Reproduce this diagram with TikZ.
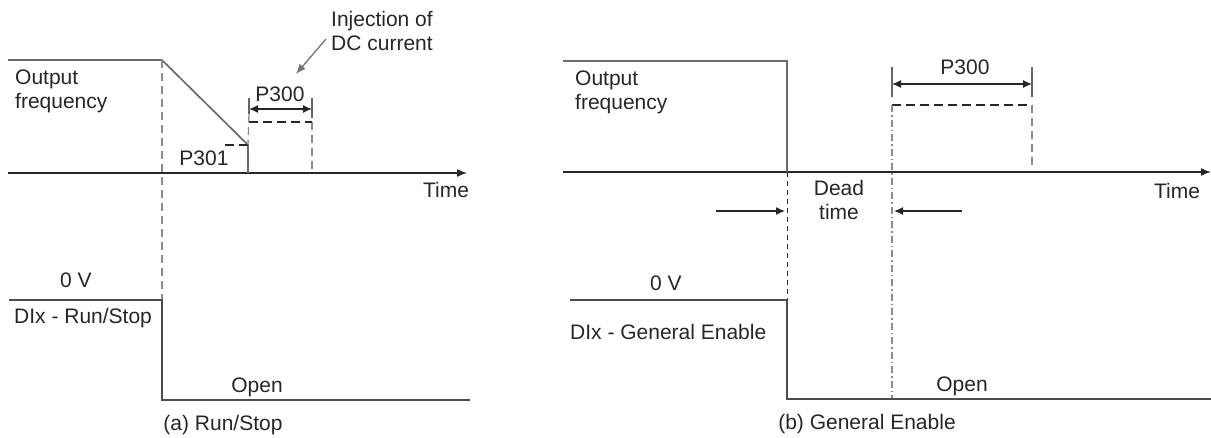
\documentclass[tikz,border=0pt]{standalone}
\usepackage{fontspec}
\setmainfont{Liberation Sans}
\usetikzlibrary{arrows.meta,positioning,calc}

\begin{document}
\begin{tikzpicture}[x=1pt,y=-1pt,
  lbl/.style={font=\fontsize{21}{24}\selectfont,text=black!85,inner sep=0pt,align=left},
  sig/.style={draw=black!58,line width=1.7pt},
  axisline/.style={draw=black!85,line width=1.4pt,-{Latex[length=10pt,width=8pt]}},
  guide/.style={draw=black!45,line width=1.3pt,dash pattern=on 8pt off 5pt},
  pdash/.style={draw=black!85,line width=2.4pt,dash pattern=on 9pt off 5pt},
  tick/.style={draw=black!60,line width=1.3pt},
  dim/.style={draw=black!85,line width=1.4pt,{Latex[length=9pt,width=8pt]}-{Latex[length=9pt,width=8pt]}},
  pointer/.style={draw=black!85,line width=1.3pt,-{Latex[length=9pt,width=8pt]}}
]
\useasboundingbox (0,0) rectangle (1211,437);

% ---- (a) Run/Stop ----
\coordinate (aHi) at (8,60);
\coordinate (aStop) at (162,60);
\coordinate (aRamp) at (248,145);
\coordinate (aZero) at (248,173);
\coordinate (aEnd) at (337,173);
\coordinate (aAx0) at (8,173);
\coordinate (aAx1) at (467,173);
\coordinate (aP1) at (312,122);
\coordinate (aP0) at (249,122);

\node[lbl,anchor=north west] (outA) at (15,70) {Output\\frequency};
\node[lbl,align=center] (injA) at (382,31) {Injection of\\DC current};
\node[lbl] (pA300) at (280,94) {P300};
\node[lbl] (pA301) at (204,158) {P301};
\node[lbl] (timeA) at (446,190) {Time};

\draw[black!30,line width=2.4pt] (aZero) -- (aEnd);
\draw[axisline] (aAx0) -- (aAx1);
\draw[sig] (aHi) -- (aStop) -- (aRamp) -- (aZero);
\draw[guide] (aStop) -- (162,300);
\draw[pdash] (225,145) -- (aRamp);
\draw[tick] (249,98) -- (249,114);
\draw[tick] (312,98) -- (312,118);
\draw[guide] (249,114) -- (aRamp);
\draw[guide] (aP1) -- (312,170);
\draw[pdash] (aP0) -- (aP1);
\draw[dim] (249,109) -- (312,109);
\coordinate (injTip) at (296,74);
\draw[draw=black!55,line width=1.3pt,-{Latex[length=10pt,width=8pt]}] (326,39) -- (injTip);

\node[lbl] (zeroA) at (76,280) {0 V};
\node[lbl,anchor=west] (dixA) at (14,318) {DIx - Run/Stop};
\node[lbl] (openA) at (257,387) {Open};
\node[lbl] (capA) at (223,425) {(a) Run/Stop};
\draw[sig,black!70] (9,300) -- (162,300) -- (162,400) -- (470,400);

% ---- (b) General Enable ----
\coordinate (bHi) at (563,61);
\coordinate (bStop) at (787,61);
\coordinate (bZero) at (787,172);
\coordinate (bAx0) at (563,172);
\coordinate (bAx1) at (1211,172);
\coordinate (bP0) at (892,105);
\coordinate (bP1) at (1032,105);

\node[lbl,anchor=north west] (outB) at (575,71) {Output\\frequency};
\node[lbl] (pB300) at (965,67) {P300};
\node[lbl,align=center] (deadB) at (839,200) {Dead\\time};
\node[lbl] (timeB) at (1177,191) {Time};

\draw[black!30,line width=2.4pt] (bZero) -- (bP1 |- bZero);
\draw[black!85,line width=2.6pt] (871,172) -- (942,172);
\draw[axisline] (bAx0) -- (bAx1);
\draw[sig] (bHi) -- (bStop) -- (bZero);
\draw[tick] (892,67) -- (892,97);
\draw[tick] (1032,67) -- (1032,97);
\draw[dim] (892,84) -- (1032,84);
\draw[pdash] (bP0) -- (bP1);
\draw[guide] (bP1) -- (1032,170);
\draw[draw=black!45,line width=1.2pt,dash pattern=on 7pt off 3pt on 1.5pt off 3pt] (bP0) -- (892,399);
\draw[draw=black!85,line width=1pt,dash pattern=on 5pt off 4pt] (bZero) -- (787,300);
\coordinate (deadL) at (716,211);
\coordinate (deadR) at (962,211);
\draw[pointer] (deadL) -- (785,211);
\draw[pointer] (deadR) -- (894,211);

\node[lbl] (zeroB) at (666,283) {0 V};
\node[lbl,anchor=west] (dixB) at (570,332) {DIx - General Enable};
\node[lbl] (openB) at (962,386) {Open};
\node[lbl] (capB) at (867,424) {(b) General Enable};
\draw[sig,black!70] (570,300) -- (787,300) -- (787,399) -- (1211,399);
\end{tikzpicture}
\end{document}
